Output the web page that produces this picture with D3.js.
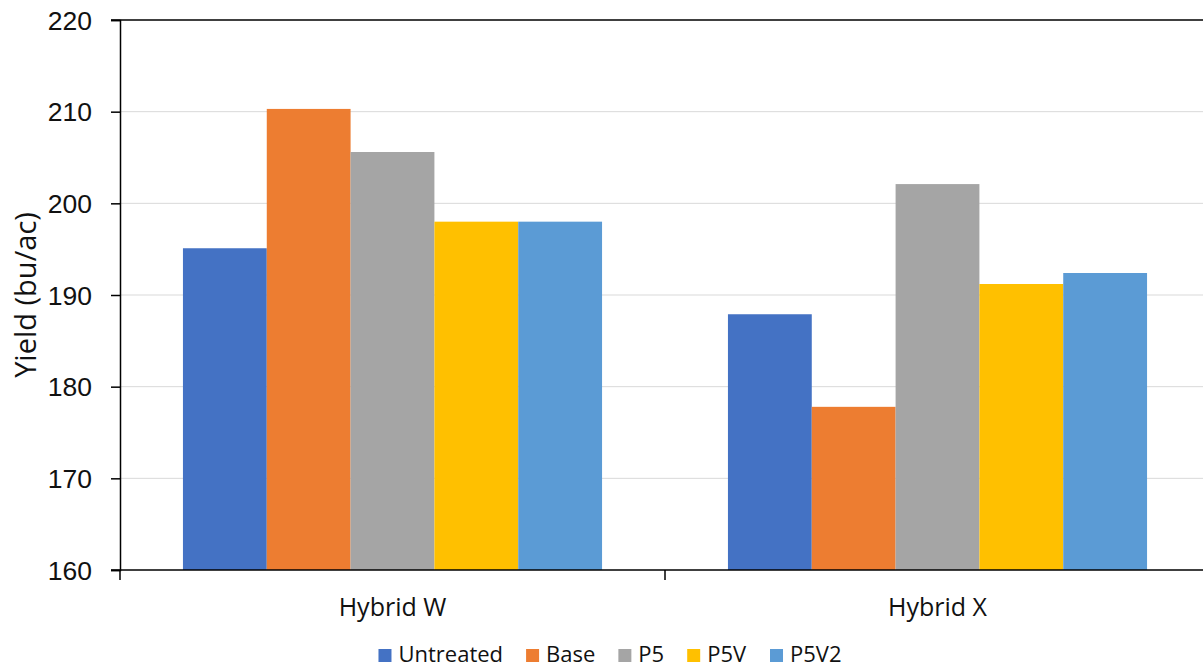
<!DOCTYPE html>
<html>
<head>
<meta charset="utf-8">
<script src="https://cdn.jsdelivr.net/npm/d3@7"></script>
<style>
  body { margin: 0; background: #fff; }
  svg { display: block; font-family: "Open Sans", sans-serif; }
</style>
</head>
<body>
<div id="chart"></div>
<script>
var hybrids = ["Hybrid W", "Hybrid X"];
var treatments = ["Untreated", "Base", "P5", "P5V", "P5V2"];
var colors = ["#4472C4", "#ED7D31", "#A5A5A5", "#FFC000", "#5B9BD5"];
// yield per treatment, one value per hybrid
var untreated = [195.1, 187.9];
var base = [210.3, 177.8];
var p5 = [205.6, 202.1];
var p5v = [198.0, 191.2];
var p5v2 = [198.0, 192.4];
var yTicks = [160, 170, 180, 190, 200, 210, 220];

var series = [untreated, base, p5, p5v, p5v2];

var W = 1203, H = 670;
var margin = {top: 20, left: 120, bottom: 100};
var plotRight = 1210;

var svg = d3.select("#chart")
    .append("svg")
    .attr("width", W)
    .attr("height", H);

var y = d3.scaleLinear()
    .domain([160, 220])
    .range([H - margin.bottom, margin.top]);

var x0 = d3.scaleBand()
    .domain(hybrids)
    .range([margin.left, plotRight])
    .paddingInner(0.231)
    .paddingOuter(0.1155);

var x1 = d3.scaleBand()
    .domain(treatments)
    .range([0, x0.bandwidth()]);

// gridlines
svg.append("g")
    .selectAll("line")
    .data(yTicks.slice(1, -1))
    .enter()
    .append("line")
    .attr("x1", margin.left)
    .attr("x2", plotRight)
    .attr("y1", function(d) { return y(d); })
    .attr("y2", function(d) { return y(d); })
    .attr("stroke", "#d9d9d9")
    .attr("stroke-width", 1);

// bars
var rows = [];
hybrids.forEach(function(h, i) {
    treatments.forEach(function(t, j) {
        rows.push({hybrid: h, treatment: t, value: series[j][i], color: colors[j]});
    });
});

svg.append("g")
    .selectAll("rect")
    .data(rows)
    .enter()
    .append("rect")
    .attr("x", function(d) { return x0(d.hybrid) + x1(d.treatment); })
    .attr("y", function(d) { return y(d.value); })
    .attr("width", x1.bandwidth())
    .attr("height", function(d) { return y(160) - y(d.value); })
    .attr("fill", function(d) { return d.color; });

// top border line at 220
svg.append("line")
    .attr("x1", margin.left - 9)
    .attr("x2", plotRight)
    .attr("y1", y(220))
    .attr("y2", y(220))
    .attr("stroke", "#000")
    .attr("stroke-width", 1.5);

// y axis
var yAxis = svg.append("g")
    .attr("transform", "translate(" + margin.left + ",0)")
    .call(d3.axisLeft(y).tickValues(yTicks).tickSize(9).tickPadding(19));
yAxis.select(".domain").attr("stroke", "#000").attr("stroke-width", 1.5);
yAxis.selectAll(".tick line").attr("stroke", "#000").attr("stroke-width", 1.5);
yAxis.selectAll("text")
    .attr("fill", "#111")
    .style("font-size", "26.5px")
    .attr("dy", "0.35em");

// x axis: ticks on group boundaries
var xAxis = svg.append("g")
    .attr("transform", "translate(0," + y(160) + ")");
xAxis.append("line")
    .attr("x1", margin.left - 9)
    .attr("x2", plotRight)
    .attr("stroke", "#000")
    .attr("stroke-width", 1.5);
var bounds = [margin.left].concat(hybrids.map(function(h) { return x0(h) + x0.bandwidth() + x0.step() * x0.paddingInner() / 2; }));
xAxis.selectAll(".xtick")
    .data(bounds)
    .enter()
    .append("line")
    .attr("class", "xtick")
    .attr("x1", function(d) { return d; })
    .attr("x2", function(d) { return d; })
    .attr("y1", 0)
    .attr("y2", 10)
    .attr("stroke", "#000")
    .attr("stroke-width", 1.5);
xAxis.selectAll(".xlabel")
    .data(hybrids)
    .enter()
    .append("text")
    .attr("class", "xlabel")
    .attr("x", function(d) { return x0(d) + x0.bandwidth() / 2; })
    .attr("y", 46)
    .attr("text-anchor", "middle")
    .attr("fill", "#111")
    .style("font-size", "25px")
    .text(function(d) { return d; });

// y title
svg.append("text")
    .attr("transform", "translate(36," + (y(190)) + ") rotate(-90)")
    .attr("text-anchor", "middle")
    .attr("fill", "#111")
    .style("font-size", "29px")
    .text("Yield (bu/ac)");

// legend
var legend = svg.append("g");
var items = legend.selectAll("g")
    .data(treatments)
    .enter()
    .append("g");
items.append("rect")
    .attr("width", 13)
    .attr("height", 13)
    .attr("y", -13)
    .attr("fill", function(d, i) { return colors[i]; });
items.append("text")
    .attr("x", 20)
    .attr("y", 0)
    .attr("fill", "#111")
    .style("font-size", "22px")
    .text(function(d) { return d; });
var pos = 0;
items.each(function() {
    var w = this.getBBox().width;
    d3.select(this).attr("transform", "translate(" + pos + ",0)");
    pos += w + 23;
});
var legendW = pos - 23;
legend.attr("transform", "translate(" + (610 - legendW / 2) + ",662)");
</script>
</body>
</html>
